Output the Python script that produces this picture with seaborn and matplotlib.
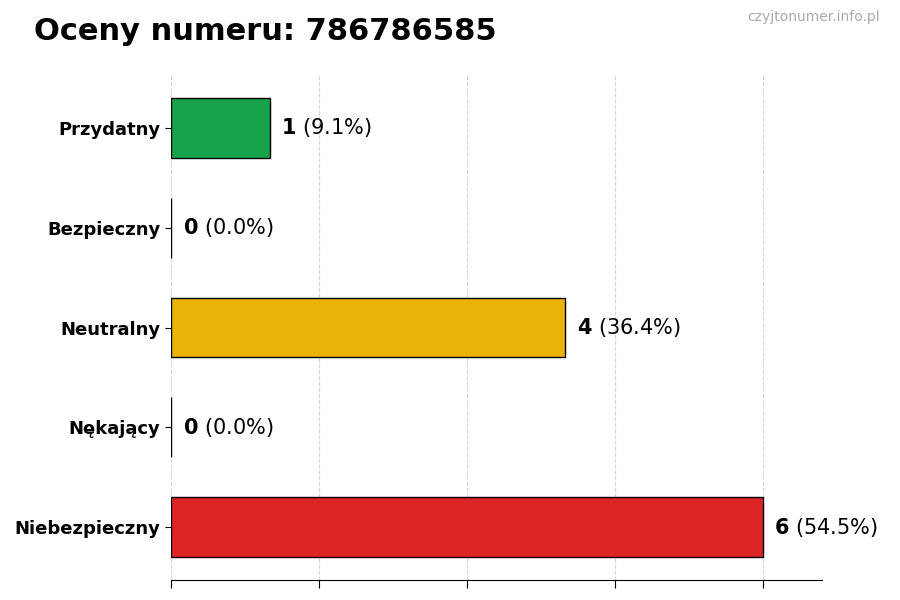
import matplotlib
matplotlib.use("Agg")
import matplotlib.pyplot as plt
import seaborn as sns
import pandas as pd

categories = ["Przydatny", "Bezpieczny", "Neutralny", "Nękający", "Niebezpieczny"]
counts = [1, 0, 4, 0, 6]
colors = ["#16a34a", "#9ca3af", "#eab308", "#f97316", "#dc2626"]
number = "786786585"

total = sum(counts)
df = pd.DataFrame({"kategoria": categories, "liczba": counts})

sns.set_style("white")
plt.rcParams["font.family"] = ["DejaVu Sans"]
plt.rcParams["text.color"] = "black"
plt.rcParams["xtick.color"] = "black"
plt.rcParams["ytick.color"] = "black"
plt.rcParams["axes.labelcolor"] = "black"

fig = plt.figure(figsize=(9, 6), dpi=100)
ax = fig.add_axes([0.19, 0.0333, 0.723, 0.8417])

sns.barplot(data=df, y="kategoria", x="liczba", hue="kategoria", palette=colors,
            order=categories, orient="h", width=0.6, edgecolor="black",
            linewidth=1, legend=False, saturation=1, ax=ax)

xmax = max(counts) * 1.1
ax.set_xlim(0, xmax)
ax.set_ylim(len(categories) - 1 + 0.53, -0.53)
ax.set_xticks([0, 1.5, 3, 4.5, 6])
ax.set_xticklabels([])
ax.grid(axis="x", linestyle="--", color="#cccccc", linewidth=0.8, alpha=0.8)
ax.set_axisbelow(True)
ax.set_xlabel("")
ax.set_ylabel("")
for s in ["top", "right", "left"]:
    ax.spines[s].set_visible(False)
ax.spines["bottom"].set_color("black")
ax.tick_params(axis="x", length=6, color="black", bottom=True)
ax.tick_params(axis="y", length=4, color="black", left=True, labelsize=13,
               labelcolor="black")
for lab in ax.get_yticklabels():
    lab.set_fontweight("bold")

for i, c in enumerate(counts):
    pct = c / total * 100
    ax.text(c + max(counts) * 0.02, i, rf"$\mathbf{{{c}}}$ ({pct:.1f}%)",
            va="center", ha="left", fontsize=15, color="black")

fig.text(0.038, 0.948, f"Oceny numeru: {number}", fontsize=22, fontweight="bold",
         ha="left", va="center", color="black")
fig.text(0.978, 0.972, "czyjtonumer.info.pl", fontsize=10, color="#aaaaaa",
         ha="right", va="center")

fig.savefig("out.png", dpi=100)
